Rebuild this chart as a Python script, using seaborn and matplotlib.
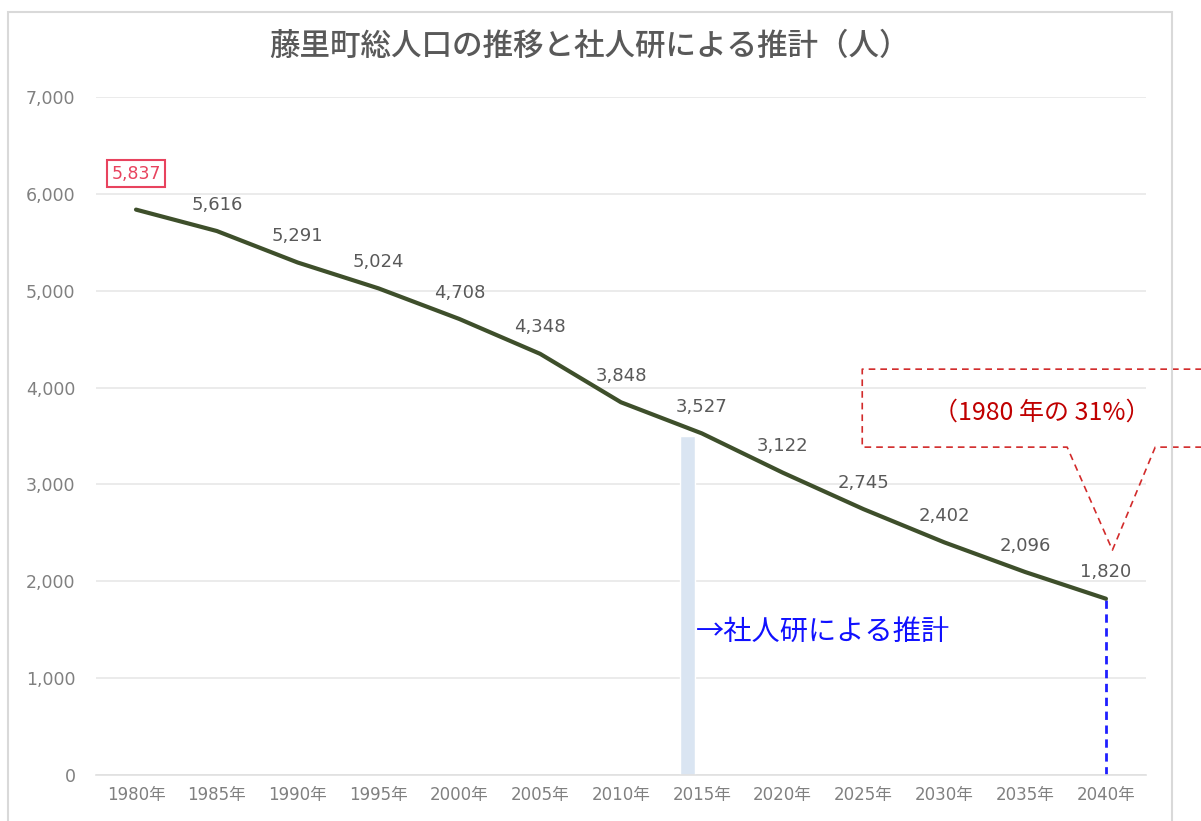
import matplotlib
matplotlib.use("Agg")
import matplotlib.pyplot as plt
from matplotlib.lines import Line2D
from matplotlib.patches import Rectangle
import seaborn as sns
import pandas as pd

# Population of Fujisato town (actual and projection), persons
years = ["1980年", "1985年", "1990年", "1995年", "2000年", "2005年", "2010年",
         "2015年", "2020年", "2025年", "2030年", "2035年", "2040年"]
population = [5837, 5616, 5291, 5024, 4708, 4348, 3848,
              3527, 3122, 2745, 2402, 2096, 1820]
y_ticks = [0, 1000, 2000, 3000, 4000, 5000, 6000, 7000]

title = "藤里町総人口の推移と社人研による推計（人）"
projection_note = "→社人研による推計"
ratio_note = "（1980 年の 31%）"
projection_start_level = 3500

sns.set_theme(style="white")
plt.rcParams["font.family"] = ["Noto Sans CJK JP", "DejaVu Sans"]
num_font = ["DejaVu Sans", "Noto Sans CJK JP"]

df = pd.DataFrame({"idx": range(len(years)), "year": years, "pop": population})

fig = plt.figure(figsize=(12.01, 8.21), dpi=100)
ax = fig.add_axes([0.0796, 0.056, 0.8749, 0.8259])

# chart frame
fig.patches.append(Rectangle((0.0067, -0.05), 0.9691, 1.0354, transform=fig.transFigure,
                             fill=False, edgecolor="#d9d9d9", linewidth=1.5, zorder=0))

# marker for start of projection period
ax.bar(6.82, projection_start_level, width=0.19, color="#dae5f2", zorder=1)

sns.lineplot(data=df, x="idx", y="pop", ax=ax, color="#3e4f2b", linewidth=3, zorder=3)

# dashed drop line from the last value
last = len(years) - 1
ax.plot([last, last], [0, population[-1]], color="#1f1fff", linestyle=(0, (3, 2)),
        linewidth=2, zorder=2)

ax.set_xlim(-0.5, len(years) - 0.5)
ax.set_ylim(0, 7000)
ax.set_yticks(y_ticks)
ax.set_yticklabels([f"{v:,}" for v in y_ticks], family=num_font, fontsize=12.5)
ax.set_xticks(range(len(years)))
ax.set_xticklabels(years, family=num_font, fontsize=12)
ax.tick_params(axis="both", length=0, labelcolor="#808080")
ax.tick_params(axis="y", pad=14.5)
ax.tick_params(axis="x", pad=8)
ax.set_xlabel("")
ax.set_ylabel("")
ax.grid(axis="y", color="#e8e8e8", linewidth=1.2)
ax.set_axisbelow(True)
for s in ["top", "right", "left"]:
    ax.spines[s].set_visible(False)
ax.spines["bottom"].set_color("#e0e0e0")
ax.spines["bottom"].set_linewidth(1.2)

# value labels
for i, v in enumerate(population):
    if i == 0:
        ax.annotate(f"{v:,}", (i, v), xytext=(0, 26), textcoords="offset points",
                    ha="center", va="center", fontsize=12.5, color="#e8435e",
                    family=num_font,
                    bbox=dict(boxstyle="square,pad=0.25", fc="white", ec="#e8435e", lw=1.5),
                    zorder=5)
    else:
        ax.annotate(f"{v:,}", (i, v), xytext=(0, 19), textcoords="offset points",
                    ha="center", va="center", fontsize=13, color="#595959",
                    family=num_font, zorder=5)

fig.text(0.491, 0.943, title, ha="center", va="center", fontsize=22,
         color="#595959", fontweight="medium")

ax.text(6.93, 1480, projection_note, ha="left", va="center", fontsize=20.3, color="#1010ff")

# callout with a pointer towards the last value
cx = [14.0, 8.985, 8.985, 11.52, 12.08, 12.61, 14.0]
cy = [4190, 4190, 3385, 3385, 2322, 3385, 3385]
ax.add_line(Line2D(cx, cy, color="#d22b2b", linestyle=(0, (4, 3)), linewidth=1.2,
                   clip_on=False, zorder=4))
ax.text(11.2, 3740, ratio_note, ha="center", va="center", fontsize=18, color="#c00000")

fig.savefig("out.png", dpi=100, facecolor="white")
